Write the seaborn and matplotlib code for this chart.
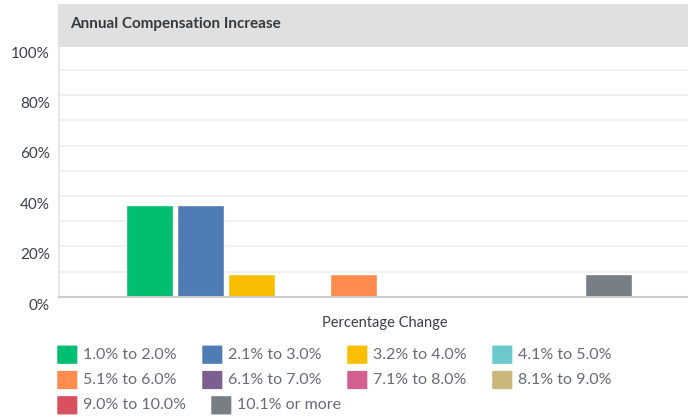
"""
Annual Compensation Increase - grouped bar chart with flow legend
"""

import matplotlib
matplotlib.use('Agg')  # Non-interactive backend
import matplotlib.pyplot as plt
import matplotlib.transforms as mtransforms
from matplotlib.patches import Rectangle, FancyBboxPatch
from matplotlib.ticker import MultipleLocator, PercentFormatter
import pandas as pd
import seaborn as sns

# Data
group_label = "Percentage Change"
categories = [
    "1.0% to 2.0%", "2.1% to 3.0%", "3.2% to 4.0%", "4.1% to 5.0%",
    "5.1% to 6.0%", "6.1% to 7.0%", "7.1% to 8.0%", "8.1% to 9.0%",
    "9.0% to 10.0%", "10.1% or more",
]
values = [36.36, 36.36, 9.09, 0, 9.09, 0, 0, 0, 0, 9.09]
palette = [
    "#00bf6f", "#507cb6", "#f9be00", "#6bc8cd", "#ff8b4f",
    "#7d5e90", "#d25f90", "#c9b77c", "#d9505f", "#787e85",
]
title = "Annual Compensation Increase"

W, H, DPI = 688, 418, 100
FONT = ["Lato", "DejaVu Sans"]
TEXT_DARK = "#3a3f47"
TEXT_SOFT = "#666b75"

sns.set_theme(style="white")
plt.rcParams['font.family'] = FONT

df = pd.DataFrame({"group": [group_label] * len(categories),
                   "category": categories,
                   "value": values})

fig = plt.figure(figsize=(W / DPI, H / DPI), dpi=DPI)
ax = fig.add_axes([59 / W, (H - 296.7) / H, (W - 59) / W, 252 / H])

sns.barplot(data=df, x="group", y="value", hue="category",
            hue_order=categories, palette=palette, width=0.8, gap=0.08,
            saturation=1, legend=False, ax=ax)

ax.set_ylim(0, 100)
ax.set_xlim(-0.501, 0.484)
ax.yaxis.set_major_locator(MultipleLocator(20))
ax.yaxis.set_minor_locator(MultipleLocator(10))
ax.yaxis.set_major_formatter(PercentFormatter(decimals=0))
ax.grid(which="both", axis="y", color="#efefef", linewidth=1.2)
ax.set_axisbelow(True)
ax.set_xlabel("")
ax.set_ylabel("")
ax.tick_params(axis="y", which="both", length=0, pad=6.5,
               labelsize=11, labelcolor=TEXT_DARK)
ax.tick_params(axis="x", length=0, pad=14, labelsize=10.5,
               labelcolor=TEXT_DARK)

# tick labels sit a little off their gridlines / group centre in the reference
shift_y = mtransforms.ScaledTranslation(0, -7.5 / DPI, fig.dpi_scale_trans)
for lbl in ax.get_yticklabels():
    lbl.set_transform(lbl.get_transform() + shift_y)
shift_x = mtransforms.ScaledTranslation(6 / DPI, 0, fig.dpi_scale_trans)
for lbl in ax.get_xticklabels():
    lbl.set_transform(lbl.get_transform() + shift_x)

for side in ["top", "right"]:
    ax.spines[side].set_visible(False)
ax.spines["bottom"].set_color("#cccccc")
ax.spines["bottom"].set_linewidth(1.5)
ax.spines["left"].set_color("#e3e3e3")
ax.spines["left"].set_linewidth(1.2)

# Title band
fig.patches.append(Rectangle((58 / W, (H - 46.7) / H), (W - 58) / W, 42.7 / H,
                             transform=fig.transFigure, facecolor="#e0e0e0",
                             edgecolor="none", zorder=1))
fig.text(70 / W, (H - 24) / H, title, fontsize=11, fontweight="bold",
         color="#333a40", va="center", ha="left")

# Flow legend, 4 items per row, min item width 145 px
renderer = fig.canvas.get_renderer()
row_y = [354.7, 380.0, 405.3]
for i, (cat, col) in enumerate(zip(categories, palette)):
    row, pos = divmod(i, 4)
    if pos == 0:
        x = 57.3
    y = row_y[row]
    fig.patches.append(FancyBboxPatch(((x + 1) / W, (H - y - 8.5) / H), 18 / W, 17 / H,
                                      boxstyle="round,pad=0.0015",
                                      transform=fig.transFigure,
                                      facecolor=col, edgecolor="none", zorder=2))
    t = fig.text((x + 26) / W, (H - y) / H, cat, fontsize=11.5,
                 color=TEXT_SOFT, va="center", ha="left")
    right = t.get_window_extent(renderer).x1
    x = max(x + 145, right + 25)

fig.savefig("out.png", dpi=DPI, facecolor="white")
plt.close(fig)
